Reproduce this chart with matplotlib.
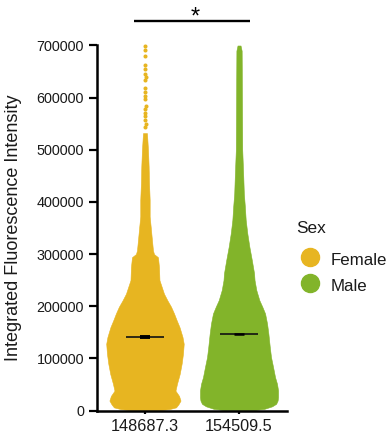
import numpy as np
import matplotlib
matplotlib.use("Agg")
import matplotlib.pyplot as plt
from matplotlib.lines import Line2D

plt.rcParams['font.family'] = ['Liberation Sans', 'DejaVu Sans']

groups = ["Female", "Male"]
colors = ["#E7B521", "#82B42A"]
mean_labels = ["148687.3", "154509.5"]
medians = [141000, 146000]

# Swarm outline: intensity level and half-width of the swarm (category units)
female_levels = [1000, 2500, 6000, 12000, 19000, 28000, 38000, 51000, 70000, 90000,
                 109000, 128000, 141000, 160000, 173000, 186000, 199000, 211000,
                 224000, 237000, 250000, 275000, 294000, 300000, 307000, 333000,
                 352000, 372000, 404000, 436000, 468000, 500000, 532000]
female_halfwidth = [0.160, 0.255, 0.330, 0.356, 0.378, 0.362, 0.324, 0.340, 0.369, 0.390,
                    0.404, 0.412, 0.399, 0.367, 0.337, 0.309, 0.277, 0.239,
                    0.202, 0.178, 0.154, 0.149, 0.138, 0.096, 0.085, 0.071,
                    0.061, 0.050, 0.050, 0.043, 0.039, 0.032, 0.021]

male_levels = [1000, 3000, 8000, 12800, 19000, 25600, 38500, 51000, 64000, 83300,
               102500, 121700, 147500, 166700, 186000, 198700, 211500, 230800,
               250000, 263000, 288500, 314000, 339700, 365400, 391000, 416700,
               448700, 500000, 600000, 690000, 700000]
male_halfwidth = [0.160, 0.266, 0.351, 0.394, 0.410, 0.415, 0.415, 0.404, 0.383, 0.362,
                  0.340, 0.327, 0.312, 0.298, 0.277, 0.248, 0.216, 0.184,
                  0.165, 0.160, 0.136, 0.110, 0.088, 0.071, 0.062, 0.051,
                  0.045, 0.034, 0.031, 0.028, 0.016]

# Sparse high-intensity cells above the female swarm body
female_outliers = [544000, 550000, 557000, 564000, 571000, 578000, 584000,
                   597000, 604000, 611000, 618000, 633000, 639000, 646000,
                   655000, 662000, 679000, 691000, 699000]

yticks = [0, 100000, 200000, 300000, 400000, 500000, 600000, 700000]

W, H, DPI = 391, 440, 100
fig = plt.figure(figsize=(W / DPI, H / DPI), dpi=DPI)
ax = fig.add_axes([97 / W, 1 - 410.5 / H, 190 / W, 365 / H])
ax.set_xlim(-0.51, 1.51)
ax.set_ylim(0, 700000)

outlines = [(female_levels, female_halfwidth), (male_levels, male_halfwidth)]
for i, (lv, hw) in enumerate(outlines):
    lv = np.asarray(lv, float)
    hw = np.asarray(hw, float)
    ax.fill_betweenx(lv, i - hw, i + hw, color=colors[i], lw=0.4,
                     edgecolor=colors[i], zorder=2)


def swarm_offsets(values, yscale, xscale, dist):
    """Place points one by one at the x offset nearest the centre that avoids overlap."""
    placed = []
    offs = []
    for v in values:
        y = v * yscale
        k = 0
        while True:
            cands = [0.0] if k == 0 else [k * 0.6, -k * 0.6]
            ok = None
            for c in cands:
                if all((c - px) ** 2 + (y - py) ** 2 >= dist ** 2 for px, py in placed):
                    ok = c
                    break
            if ok is not None:
                placed.append((ok, y))
                offs.append(ok / xscale)
                break
            k += 1
    return np.array(offs)


px_per_val = 365 / 700000
px_per_cat = 190 / 2.02
out_off = swarm_offsets(female_outliers, px_per_val, px_per_cat, 3.2)
ax.scatter(0 + out_off, female_outliers, s=8.5, color=colors[0], lw=0,
           zorder=3, clip_on=False)

# Median lines with small centre marks
for i, m in enumerate(medians):
    ax.plot([i - 0.2, i + 0.2], [m, m], color="#111111", lw=1.2, zorder=4,
            solid_capstyle="butt")
ax.plot([-0.05, 0.05], [medians[0]] * 2, color="black", lw=2.8, zorder=5,
        solid_capstyle="butt")
ax.plot([0.95, 1.05], [medians[1]] * 2, color="black", lw=1.8, zorder=5,
        solid_capstyle="butt")

# Significance bracket
ax.plot([-0.117, 1.117], [746600, 746600], color="black", lw=1.7, clip_on=False,
        solid_capstyle="butt")
ax.text(0.535, 741500, "*", ha="center", va="baseline", fontsize=17, clip_on=False)

for s in ["top", "right"]:
    ax.spines[s].set_visible(False)
for s in ["left", "bottom"]:
    ax.spines[s].set_linewidth(1.8)

ax.set_yticks(yticks)
ax.set_yticklabels([str(t) for t in yticks])
ax.set_xticks([0, 1])
ax.set_xticklabels(mean_labels)
ax.tick_params(axis="y", length=5.8, width=1.6, pad=3.6, labelsize=10.4, colors="black")
ax.tick_params(axis="x", length=2.5, width=1.6, pad=3.5, labelsize=11.7, colors="black")
for lab in ax.get_xticklabels() + ax.get_yticklabels():
    lab.set_color("#1a1a1a")

fig.text(14 / W, 1 - 227.5 / H, "Integrated Fluorescence Intensity", rotation=90,
         ha="center", va="center", fontsize=13, color="#1a1a1a")

# Legend
fig.text(296 / W, 1 - 233.3 / H, "Sex", ha="left", va="baseline", fontsize=12.4,
         color="#1a1a1a")
for j, (g, yc, yb) in enumerate([("Female", 257, 265), ("Male", 283.3, 290.7)]):
    fig.add_artist(Line2D([310 / W], [1 - yc / H], marker="o", markersize=13,
                          color=colors[j], lw=0, transform=fig.transFigure))
    fig.text(331 / W, 1 - yb / H, g, ha="left", va="baseline", fontsize=12.2,
             color="#1a1a1a")

fig.savefig("out.png", dpi=DPI)
